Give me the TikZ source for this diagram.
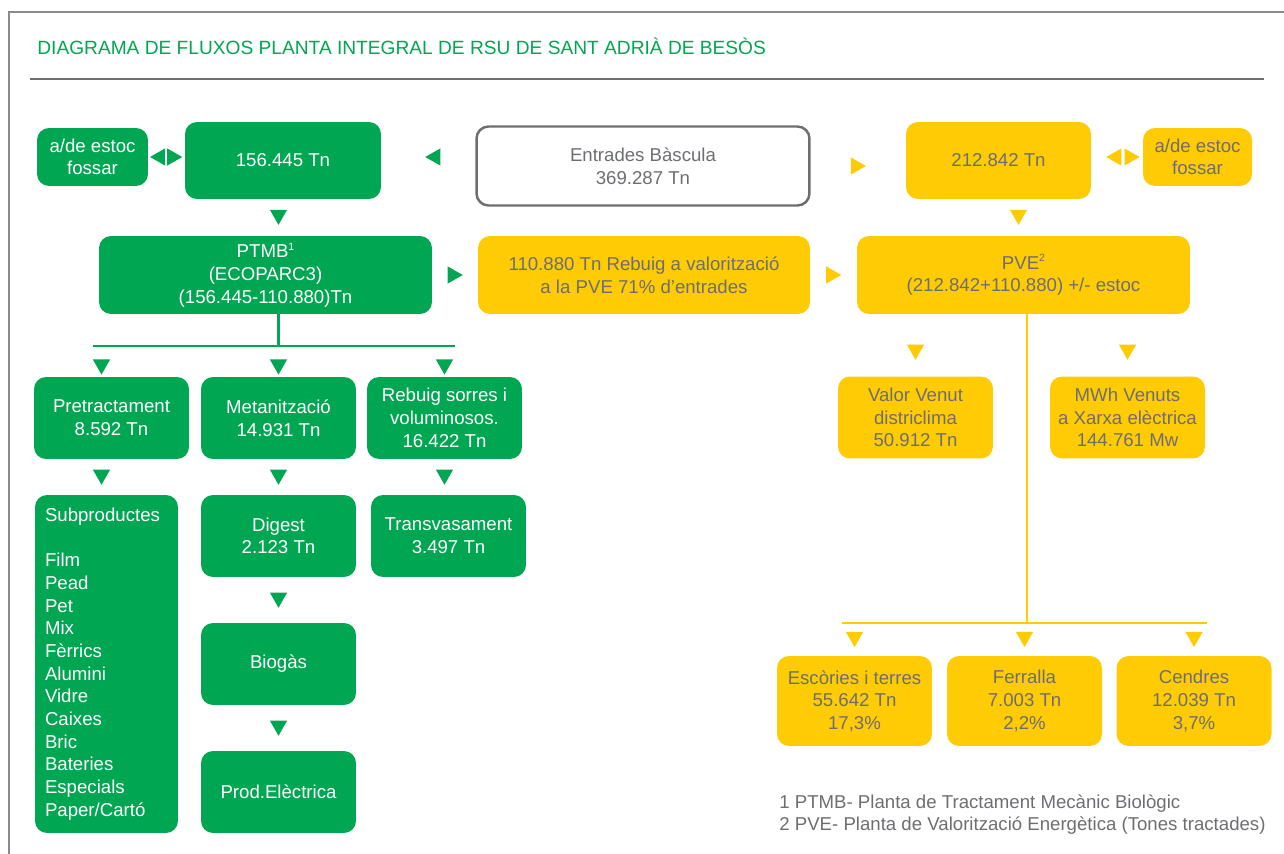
\documentclass[tikz,border=0pt]{standalone}
\usepackage{fontspec}
\setmainfont{Liberation Sans}
\usepackage{tikz}
\usetikzlibrary{decorations.markings}
\definecolor{pgreen}{HTML}{00A651}
\definecolor{pyellow}{HTML}{FFCB05}
\definecolor{pgray}{HTML}{6D6E71}
\definecolor{fgray}{HTML}{8A8A8A}
\newcommand{\supnum}[1]{\raisebox{0.75ex}{\fontsize{6}{6}\selectfont #1}}

\begin{document}
\begin{tikzpicture}
            [x=0.02cm,y=-0.02cm,
             every node/.style={font=\fontsize{10.6}{12.9}\selectfont,align=center,inner sep=0pt},
             gbox/.style={fill=pgreen,text=white,rounded corners=0.24cm},
             ybox/.style={fill=pyellow,text=pgray,rounded corners=0.24cm},
             wd/.style={minimum width=3.1cm,minimum height=1.64cm},
             gline/.style={draw=pgreen,line width=1.3pt},
             yline/.style={draw=pyellow,line width=1.3pt},
             tri/.style 2 args={decoration={markings,mark=at position #2 with {\fill[#1] (4.4pt,0) -- (-4.2pt,4.9pt) -- (-4.2pt,-4.9pt) -- cycle;}},decorate}]
            \useasboundingbox (0,0) rectangle (1284,854);
            \draw[fgray,line width=1.1pt] (9,854) -- (9,12) -- (1284,12);
            \node[text=pgreen,anchor=base west,font=\fontsize{10.9}{13}\selectfont] (title) at (37,55) {DIAGRAMA DE FLUXOS PLANTA INTEGRAL DE RSU DE SANT ADRIÀ DE BESÒS};
            \draw[pgray,line width=1.7pt] (30,79) -- (1264,79);
            %
            \node[gbox,minimum width=2.22cm,minimum height=1.16cm] (estocL) at (92.5,157) {a/de estoc\\fossar};
            \node[gbox,minimum width=3.92cm,minimum height=1.54cm] (t156) at (283,160.5) {156.445 Tn};
            \node[draw=pgray,line width=1.4pt,rounded corners=0.24cm,text=pgray,minimum width=6.66cm,minimum height=1.58cm] (bascula) at (643,166) {Entrades Bàscula\\369.287 Tn};
            \node[ybox,minimum width=3.7cm,minimum height=1.54cm] (t212) at (998.5,160.5) {212.842 Tn};
            \node[ybox,minimum width=2.18cm,minimum height=1.16cm] (estocR) at (1197.5,157) {a/de estoc\\fossar};
            %
            \node[gbox,minimum width=6.66cm,minimum height=1.56cm] (ptmb) at (265.5,275) {PTMB\supnum{1}\\(ECOPARC3)\\(156.445-110.880)Tn};
            \node[ybox,minimum width=6.64cm,minimum height=1.56cm] (rebuig) at (644,275) {110.880 Tn Rebuig a valorització\\a la PVE 71\% d’entrades};
            \node[ybox,minimum width=6.66cm,minimum height=1.56cm] (pve) at (1023.5,275) {PVE\supnum{2}\\(212.842+110.880) +/- estoc};
            %
            \node[gbox,wd] (pretr) at (111.5,418) {Pretractament\\8.592 Tn};
            \node[gbox,wd] (metan) at (278.5,418) {Metanització\\14.931 Tn};
            \node[gbox,wd] (sorres) at (444.5,418) {Rebuig sorres i\\voluminosos.\\16.422 Tn};
            \node[gbox,text width=2.46cm,align=left,inner xsep=0.2cm,minimum height=6.76cm] (subprod) at (106.5,664) {Subproductes\\~\\Film\\Pead\\Pet\\Mix\\Fèrrics\\Alumini\\Vidre\\Caixes\\Bric\\Bateries\\Especials\\Paper/Cartó};
            \node[gbox,wd] (digest) at (278.5,536) {Digest\\2.123 Tn};
            \node[gbox,wd] (transv) at (448.5,536) {Transvasament\\3.497 Tn};
            \node[gbox,wd] (biogas) at (278.5,664) {Biogàs};
            \node[gbox,wd] (prodel) at (278.5,792) {Prod.Elèctrica};
            %
            \node[ybox,wd] (valor) at (915.5,417.5) {Valor Venut\\districlima\\50.912 Tn};
            \node[ybox,wd] (mwh) at (1127.5,417.5) {MWh Venuts\\a Xarxa elèctrica\\144.761 Mw};
            \node[ybox,wd,minimum height=1.8cm] (escor) at (854.5,701) {Escòries i terres\\55.642 Tn\\17,3\%};
            \node[ybox,wd,minimum height=1.8cm] (ferr) at (1024.5,701) {Ferralla\\7.003 Tn\\2,2\%};
            \node[ybox,wd,minimum height=1.8cm] (cendr) at (1194,701) {Cendres\\12.039 Tn\\3,7\%};
            %
            \node[text=pgray,anchor=north west,align=left] (notes) at (779,794) {1 PTMB- Planta de Tractament Mecànic Biològic\\2 PVE- Planta de Valorització Energètica (Tones tractades)};
            %
            \coordinate (gL) at (93,346);
            \coordinate (gR) at (455,346);
            \coordinate (yL) at (842,623);
            \coordinate (yR) at (1207,623);
            \coordinate (yC) at (1027,623);
            \draw[gline] (ptmb.south -| metan) -- (gL -| metan);
            \draw[gline] (gL) -- (gR);
            \draw[yline] (pve.south -| yC) -- (yC);
            \draw[yline] (yL) -- (yR);
            %
            \path[tri={pgreen}{.74}] (t156.west |- estocL) -- (estocL.east);
            \path[tri={pgreen}{.72}] (estocL.east) -- (t156.west |- estocL);
            \path[tri={pgreen}{.45}] (bascula.west |- estocL) -- (t156.east |- estocL);
            \path[tri={pyellow}{.5}] (bascula.east) -- (t212.west |- bascula.east);
            \path[tri={pyellow}{.56}] (estocR.west) -- (t212.east |- estocR);
            \path[tri={pyellow}{.79}] (t212.east |- estocR) -- (estocR.west);
            \path[tri={pgreen}{.49}] (t156.south -| metan) -- (ptmb.north -| metan);
            \path[tri={pyellow}{.49}] ([xshift=0.4cm]t212.south) -- ([xshift=0.4cm]t212.south |- pve.north);
            \path[tri={pgreen}{.5}] (ptmb) -- (rebuig);
            \path[tri={pyellow}{.5}] (rebuig) -- (pve);
            %
            \path[tri={pgreen}{.68}] ([xshift=-0.2cm]pretr.north |- gL) -- ([xshift=-0.2cm]pretr.north);
            \path[tri={pgreen}{.68}] (metan |- gL) -- (metan);
            \path[tri={pgreen}{.68}] (sorres |- gL) -- (sorres);
            \path[tri={pgreen}{.5}] ([xshift=-0.2cm]pretr.south) -- ([xshift=-0.2cm]pretr.south |- subprod.north);
            \path[tri={pgreen}{.5}] (metan) -- (digest);
            \path[tri={pgreen}{.5}] (sorres) -- (sorres |- transv.north);
            \path[tri={pgreen}{.5}] (digest) -- (biogas);
            \path[tri={pgreen}{.5}] (biogas) -- (prodel);
            %
            \path[tri={pyellow}{.61}] (pve.south -| valor) -- (valor);
            \path[tri={pyellow}{.61}] (pve.south -| mwh) -- (mwh);
            \path[tri={pyellow}{.5}] (yL -| escor) -- (escor);
            \path[tri={pyellow}{.5}] (yL -| ferr) -- (ferr);
            \path[tri={pyellow}{.5}] (yL -| cendr) -- (cendr);
        \end{tikzpicture}
\end{document}
